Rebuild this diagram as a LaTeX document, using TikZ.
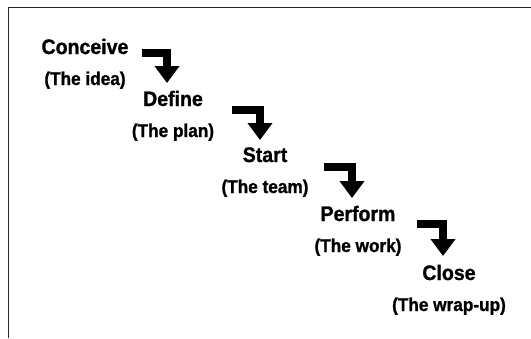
\documentclass[tikz,border=0pt]{standalone}
\usepackage{fontspec}
\setmainfont[FakeStretch=0.93, FakeBold=1.2]{Liberation Sans}
\usetikzlibrary{arrows.meta}

\begin{document}
\begin{tikzpicture}[x=1pt, y=-1pt,
    title/.style={font=\bfseries\fontsize{21}{24}\selectfont, anchor=base, inner sep=0pt},
    subtitle/.style={font=\bfseries\fontsize{18.5}{21}\selectfont, anchor=base, inner sep=0pt},
    turn/.style={line width=8.5pt, line join=miter, -{Triangle[width=24pt, length=17pt]}}]
  % Fix the size of the picture
  \useasboundingbox (0,0) rectangle (531,338);
  % Draw the frame (top and left side only)
  \draw[line width=1.8pt, black!85] (8.5,338) -- (8.5,7.5) -- (531,7.5);

  % Draw the stages with their subtitles
  \foreach \i/\x/\y/\name/\what in {1/85/54/Conceive/The idea,
      2/173/106/Define/The plan, 3/265/162/Start/The team,
      4/358/221/Perform/The work, 5/449/280/Close/The wrap-up} {
    \node[title] (step\i) at (\x,\y) {\name};
    \node[subtitle] (sub\i) at (\x,\y+31) {(\what)};
  }

  % Draw the bent arrows from one stage down to the next
  \foreach \i/\sx/\sy/\tx/\ty in {1/142/53/167/83, 2/232/110/260/140,
      3/324/167/352/198, 4/417/224/443/256} {
    \coordinate (from\i) at (\sx,\sy);
    \coordinate (to\i) at (\tx,\ty);
    \draw[turn] (from\i) -| (to\i);
  }
\end{tikzpicture}
\end{document}
